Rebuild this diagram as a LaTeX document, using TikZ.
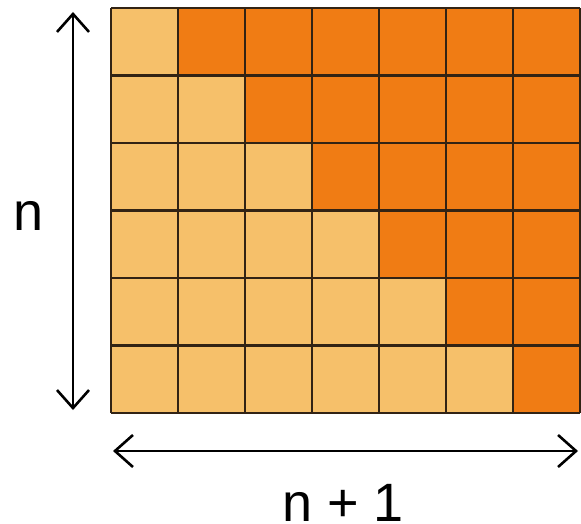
\documentclass[tikz,border=0pt]{standalone}
\usepackage{fontspec}
\setmainfont{Liberation Sans}
\usetikzlibrary{arrows.meta}
\definecolor{lightor}{RGB}{246,192,106}
\definecolor{darkor}{RGB}{240,124,20}
\definecolor{gridc}{RGB}{50,35,20}
\tikzset{
  cell/.style={draw=gridc, line width=1.1pt},
  dim/.style={line width=1.3pt, {Straight Barb[length=9pt,width=16pt,line width=1.3pt]}-{Straight Barb[length=9pt,width=16pt,line width=1.3pt]}},
  lbl/.style={font=\fontsize{27}{28}\selectfont, inner sep=0pt, anchor=base}
}
\begin{document}
\begin{tikzpicture}[x=0.5pt,y=-0.5pt]
\useasboundingbox (0,0) rectangle (581,523);
% grid: columns 111..580, rows 8..413
\foreach \r in {0,...,5}{
  \foreach \c in {0,...,6}{
    \pgfmathsetmacro{\xa}{111+\c*67}
    \pgfmathsetmacro{\xb}{111+(\c+1)*67}
    \pgfmathsetmacro{\ya}{8+\r*67.5}
    \pgfmathsetmacro{\yb}{8+(\r+1)*67.5}
    \ifnum\c>\r
      \fill[darkor] (\xa,\ya) rectangle (\xb,\yb);
    \else
      \fill[lightor] (\xa,\ya) rectangle (\xb,\yb);
    \fi
  }
}
\foreach \c in {0,...,7}{
  \draw[cell] ({111+\c*67},8) -- ({111+\c*67},413);
}
\foreach \r in {0,...,6}{
  \draw[cell] (111,{8+\r*67.5}) -- (580,{8+\r*67.5});
}
\coordinate (vt) at (73,12);
\coordinate (vb) at (73,410);
\coordinate (hl) at (113,451);
\coordinate (hr) at (578,451);
\draw[dim] (vt) -- (vb);
\draw[dim] (hl) -- (hr);
\node[lbl] (n) at (29,230) {n};
\node[lbl] (n1) at (343,521) {n + 1};
\end{tikzpicture}
\end{document}
